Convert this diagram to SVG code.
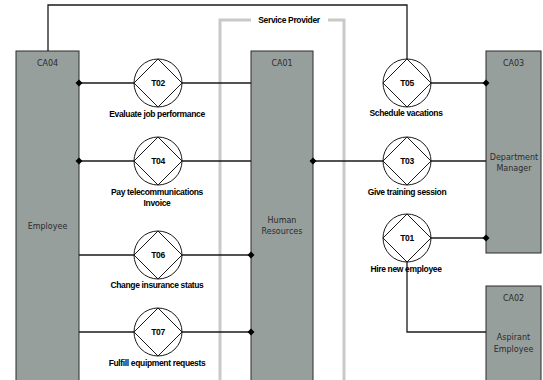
<svg xmlns="http://www.w3.org/2000/svg" width="543" height="380" viewBox="0 0 543 380">
<style>
.box{fill:#979f9d;stroke:#2a2a2a;stroke-width:1}
.bt{font-family:"DejaVu Sans",sans-serif;font-size:8px;fill:#2b2b2b;text-anchor:middle}
.tl{font-family:"Liberation Sans",Arial,sans-serif;font-size:8.5px;font-weight:bold;fill:#000;text-anchor:middle;letter-spacing:-0.35px}
.tid{font-family:"Liberation Sans",Arial,sans-serif;font-size:8.5px;font-weight:bold;fill:#000;text-anchor:middle;letter-spacing:-0.4px}
.sym{fill:#fff;stroke:#1a1a1a;stroke-width:1}
.con{fill:none;stroke:#1a1a1a;stroke-width:1.3}
.sp{fill:none;stroke:#c9c9c9;stroke-width:3}
.dot{fill:#000}
</style>
<defs>
<g id="tx">
<circle class="sym" cx="0" cy="0" r="24"/>
<path class="sym" d="M0,-24 L24,0 L0,24 L-24,0 Z" fill="none"/>
</g>
<polygon id="dm" class="dot" points="0,-3.5 3.5,0 0,3.5 -3.5,0"/>
</defs>
<rect width="543" height="380" fill="#fff"/>

<g id="service-provider">
<path class="sp" d="M220,382 V20 H251"/>
<path class="sp" d="M328,20 H344 V382"/>
<text x="289" y="23" class="tl">Service Provider</text>
</g>

<g id="CA04"><rect class="box" x="16" y="51" width="63" height="335"/>
<text class="bt" x="47.5" y="66">CA04</text><text class="bt" x="47.5" y="229">Employee</text></g>
<g id="CA01"><rect class="box" x="251" y="51" width="62" height="335"/>
<text class="bt" x="282" y="66">CA01</text><text class="bt" x="282" y="223">Human</text><text class="bt" x="282" y="234">Resources</text></g>
<g id="CA03"><rect class="box" x="486" y="51" width="55" height="202"/>
<text class="bt" x="513.5" y="66">CA03</text><text class="bt" x="514" y="160">Department</text><text class="bt" x="514" y="171">Manager</text></g>
<g id="CA02"><rect class="box" x="486" y="286" width="55" height="100"/>
<text class="bt" x="513.5" y="301">CA02</text><text class="bt" x="513.5" y="340">Aspirant</text><text class="bt" x="513.5" y="352">Employee</text></g>

<g id="connectors">
<path class="con" d="M48,51 V5 H407 V59"/>
<path class="con" d="M79,83 H134 M182,83 H251"/>
<path class="con" d="M79,161 H134 M182,161 H251"/>
<path class="con" d="M79,255 H134 M182,255 H251"/>
<path class="con" d="M79,332 H134 M182,332 H251"/>
<path class="con" d="M431,83 H486"/>
<path class="con" d="M313,161 H383 M431,161 H486"/>
<path class="con" d="M431,238 H486"/>
<path class="con" d="M407,262 V332 H486"/>
<use href="#dm" x="79" y="83"/>
<use href="#dm" x="79" y="161"/>
<use href="#dm" x="251" y="255"/>
<use href="#dm" x="251" y="332"/>
<use href="#dm" x="486" y="83"/>
<use href="#dm" x="313" y="161"/>
<use href="#dm" x="486" y="238"/>
</g>

<g id="T02"><use href="#tx" x="158" y="83"/><text class="tid" x="158" y="86">T02</text><text class="tl" x="157" y="117">Evaluate job performance</text></g>
<g id="T04"><use href="#tx" x="158" y="161"/><text class="tid" x="158" y="164">T04</text><text class="tl" x="157" y="195">Pay telecommunications</text><text class="tl" x="157" y="206">Invoice</text></g>
<g id="T06"><use href="#tx" x="158" y="255"/><text class="tid" x="158" y="258">T06</text><text class="tl" x="157" y="288">Change insurance status</text></g>
<g id="T07"><use href="#tx" x="158" y="332"/><text class="tid" x="158" y="335">T07</text><text class="tl" x="157" y="366">Fulfill equipment requests</text></g>
<g id="T05"><use href="#tx" x="407" y="83"/><text class="tid" x="407" y="86">T05</text><text class="tl" x="406" y="116">Schedule vacations</text></g>
<g id="T03"><use href="#tx" x="407" y="161"/><text class="tid" x="407" y="164">T03</text><text class="tl" x="407" y="195">Give training session</text></g>
<g id="T01"><use href="#tx" x="407" y="238"/><text class="tid" x="407" y="241">T01</text><text class="tl" x="406" y="272">Hire new employee</text></g>
</svg>
